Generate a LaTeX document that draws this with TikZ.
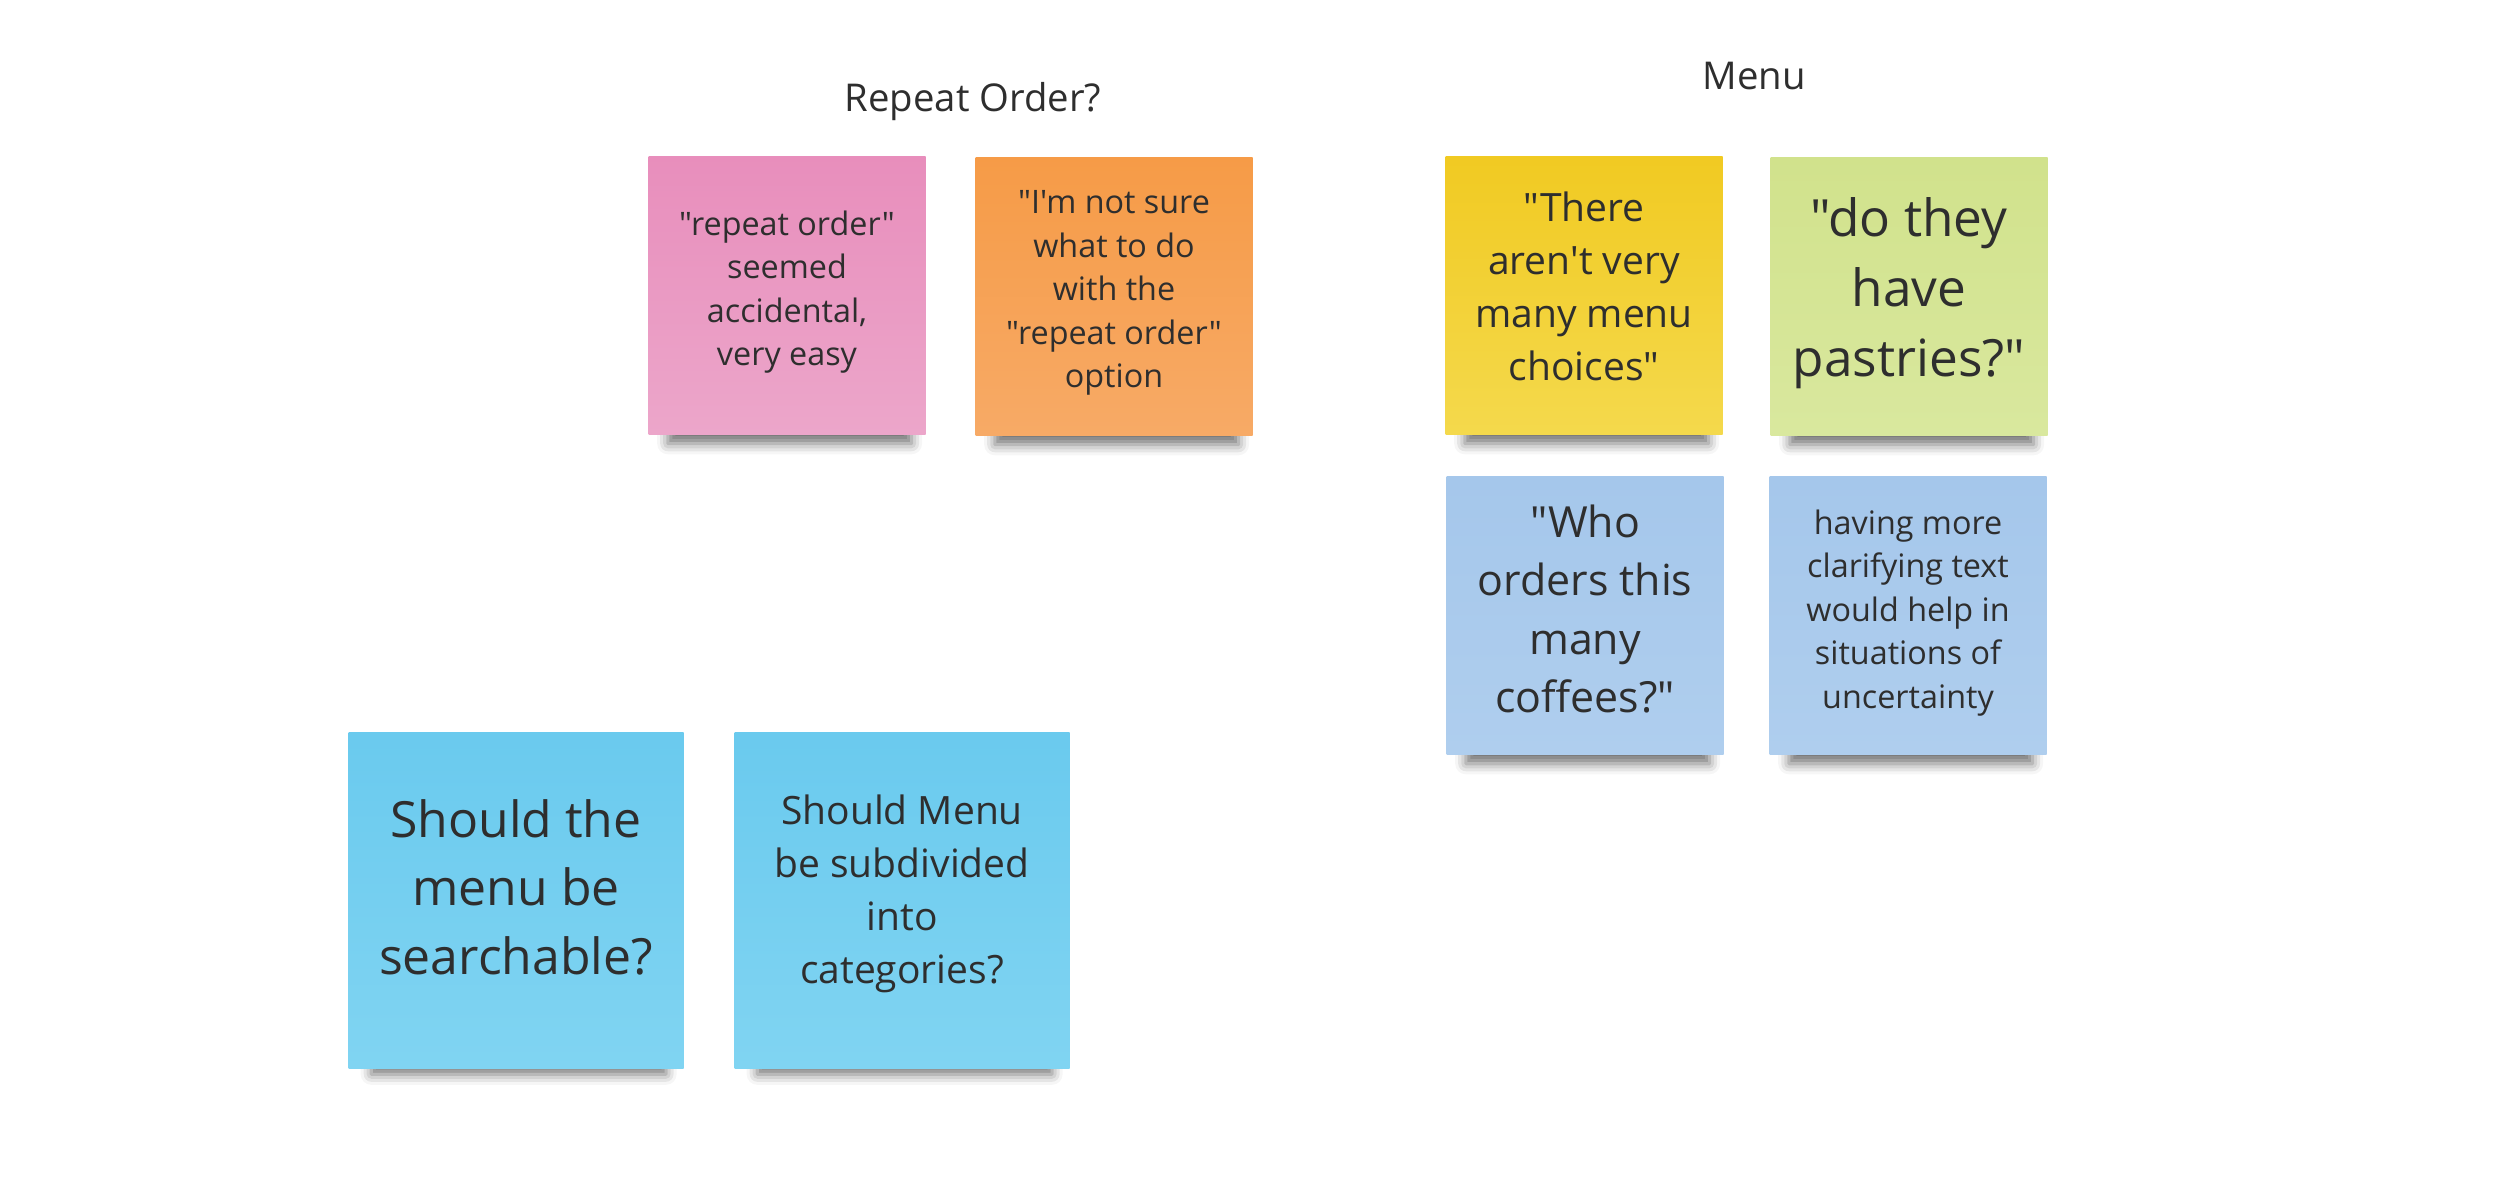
\documentclass[tikz,border=0pt]{standalone}
\usepackage{fontspec}
\newfontfamily\notefont{Open Sans}
\usetikzlibrary{shadows.blur}

\definecolor{inkgray}{HTML}{2E2E2E}
\definecolor{pinktop}{HTML}{E88EBC}
\definecolor{pinkbot}{HTML}{ECA6CA}
\definecolor{orangetop}{HTML}{F69B47}
\definecolor{orangebot}{HTML}{F7AA66}
\definecolor{yellowtop}{HTML}{F1CA22}
\definecolor{yellowbot}{HTML}{F4D94C}
\definecolor{greentop}{HTML}{D1E28C}
\definecolor{greenbot}{HTML}{D9E89E}
\definecolor{bluetop}{HTML}{A5C7EB}
\definecolor{bluebot}{HTML}{AFCEEE}
\definecolor{cyantop}{HTML}{6ACAEE}
\definecolor{cyanbot}{HTML}{80D4F2}

\begin{document}
\begin{tikzpicture}[
  note/.style={minimum width=2.77cm,minimum height=2.78cm,inner sep=0pt,
    blur shadow={shadow xshift=0.03cm,shadow yshift=-0.3cm,shadow scale=0.88,
      shadow opacity=55,shadow blur radius=0.12cm}},
  bignote/.style={note,minimum width=3.35cm,minimum height=3.36cm},
  heading/.style={text=inkgray,font=\notefont\fontsize{10.9}{13}\selectfont},
  txtA/.style={align=center,text=inkgray,font=\notefont\fontsize{9.2}{12.4}\selectfont},
  txtB/.style={align=center,text=inkgray,font=\notefont\fontsize{11.1}{15.1}\selectfont},
  txtC/.style={align=center,text=inkgray,font=\notefont\fontsize{12.2}{16.6}\selectfont},
  txtD/.style={align=center,text=inkgray,font=\notefont\fontsize{14.6}{19.9}\selectfont},
  txtE/.style={align=center,text=inkgray,font=\notefont\fontsize{14.2}{19.5}\selectfont}]
\useasboundingbox (0,0) rectangle (25,-11.83);

\node[heading] (repeatlbl) at (9.73,-1.02) {Repeat Order?};
\node[heading] (menulbl) at (17.54,-0.76) {Menu};

% repeat order group
\node[note,top color=pinktop,bottom color=pinkbot,
  label={[txtA,yshift=0.03cm]center:{"repeat order"\\seemed\\accidental,\\very easy}}]
  (accidental) at (7.87,-2.95) {};
\node[note,top color=orangetop,bottom color=orangebot,
  label={[txtA,yshift=0.03cm]center:{"I'm not sure\\what to do\\with the\\"repeat order"\\option}}]
  (notsure) at (11.14,-2.96) {};

% menu group
\node[note,top color=yellowtop,bottom color=yellowbot,
  label={[txtB,yshift=0.09cm]center:{"There\\aren't very\\many menu\\choices"}}]
  (choices) at (15.84,-2.95) {};
\node[note,top color=greentop,bottom color=greenbot,
  label={[txtD,yshift=0.03cm]center:{"do they\\have\\pastries?"}}]
  (pastries) at (19.09,-2.96) {};
\node[note,top color=bluetop,bottom color=bluebot,
  label={[txtC,yshift=0.06cm]center:{"Who\\orders this\\many\\coffees?"}}]
  (coffees) at (15.85,-6.15) {};
\node[note,top color=bluetop,bottom color=bluebot,
  label={[txtA,yshift=0.02cm]center:{having more\\clarifying text\\would help in\\situations of\\uncertainty}}]
  (clarify) at (19.08,-6.15) {};

% open questions
\node[bignote,top color=cyantop,bottom color=cyanbot,
  label={[txtE,yshift=0.13cm]center:{Should the\\menu be\\searchable?}}]
  (searchable) at (5.16,-9.0) {};
\node[bignote,top color=cyantop,bottom color=cyanbot,
  label={[txtB,yshift=0.06cm]center:{Should Menu\\be subdivided\\into\\categories?}}]
  (subdivided) at (9.02,-9.0) {};
\end{tikzpicture}
\end{document}
